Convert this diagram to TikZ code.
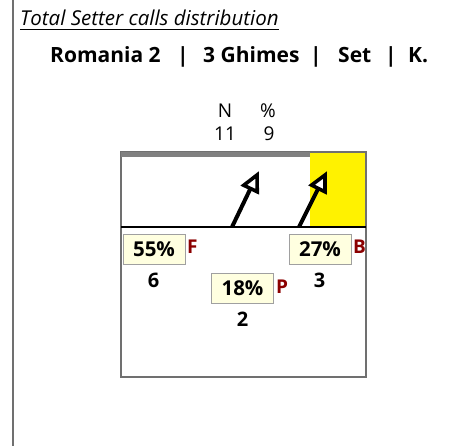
\documentclass[tikz,border=0pt]{standalone}
\usepackage{fontspec}
\setmainfont{Open Sans}
\usetikzlibrary{calc}
\definecolor{pctfill}{HTML}{FFFFE0}
\definecolor{pctborder}{HTML}{A0A0A0}
\definecolor{zonecol}{HTML}{8B0000}
\definecolor{framegray}{HTML}{707070}
\tikzset{
  pct/.style={draw=pctborder, line width=1pt, fill=pctfill, minimum width=62pt, minimum height=30pt, inner sep=0pt, font=\fontsize{20.5}{20.5}\selectfont\bfseries},
  zone/.style={text=zonecol, font=\fontsize{19}{19}\selectfont\bfseries, inner sep=0pt},
  cnt/.style={font=\fontsize{20}{20}\selectfont\bfseries, inner sep=0pt},
  hdr/.style={font=\fontsize{19}{19}\selectfont, inner sep=0pt},
  head/.style={font=\fontsize{21}{21}\selectfont\bfseries, inner sep=0pt},
  shaft/.style={line width=4pt},
  openhead/.style={line width=3.6pt, fill=white, line join=miter, miter limit=4},
}
\begin{document}
\begin{tikzpicture}[x=1pt,y=-1pt]
\useasboundingbox (0,0) rectangle (465,446);
% left frame line
\draw[framegray, line width=2pt] (13,0) -- (13,446);
% title
\node[anchor=base west, inner sep=0pt, font=\fontsize{20.5}{20.5}\selectfont\itshape] (title) at (20,26) {Total Setter calls distribution};
\draw[line width=0.9pt] (20,29.5) -- (title.base east |- 0,29.5);
% heading
\node[head, anchor=base west] (h1) at (50,63) {Romania 2};
\node[head, anchor=base] (s1) at (183,63) {|};
\node[head, anchor=base west] (h2) at (203,63) {3 Ghimes};
\node[head, anchor=base] (s2) at (316,63) {|};
\node[head, anchor=base west] (h3) at (338,63) {Set};
\node[head, anchor=base] (s3) at (391,63) {|};
\node[head, anchor=base west] (h4) at (408,63) {K.};
% N % header
\node[hdr, anchor=base] (nlab) at (225,118) {N};
\node[hdr, anchor=base] (plab) at (268,118) {\%};
\node[hdr, anchor=base] (nval) at (225,141) {11};
\node[hdr, anchor=base] (pval) at (269,141) {9};
% court
\fill[yellow] (310,152) rectangle (366,227);
\draw[framegray, line width=1.5pt] (121,152) rectangle (366,377);
\draw[gray, line width=4.5pt] (121,154.5) -- (310,154.5);
\draw[black, line width=1.2pt] (121,227) -- (366,227);
% arrows
\coordinate (a1s) at (232,227);
\coordinate (a1e) at (257,175);
\coordinate (a2s) at (299,227);
\coordinate (a2e) at (325,175);
\foreach \s/\e in {a1s/a1e, a2s/a2e}{
  \coordinate (hb) at ($(\e)!15pt!(\s)$);
  \draw[shaft] (\s) -- (hb);
  \draw[openhead] (\e) -- ($(hb)!7.5pt!90:(\e)$) -- ($(hb)!7.5pt!-90:(\e)$) -- cycle;
}
% percentages
\node[pct] (pF) at (154,249) {55\%};
\node[zone, anchor=base west] (zF) at (187,253) {F};
\node[cnt, anchor=base] (cF) at (153.5,287) {6};
\node[pct] (pB) at (320,249) {27\%};
\node[zone, anchor=base west] (zB) at (353,253) {B};
\node[cnt, anchor=base] (cB) at (319.5,287) {3};
\node[pct] (pP) at (242.5,288.5) {18\%};
\node[zone, anchor=base west] (zP) at (276,293) {P};
\node[cnt, anchor=base] (cP) at (242.5,326) {2};
\end{tikzpicture}
\end{document}
